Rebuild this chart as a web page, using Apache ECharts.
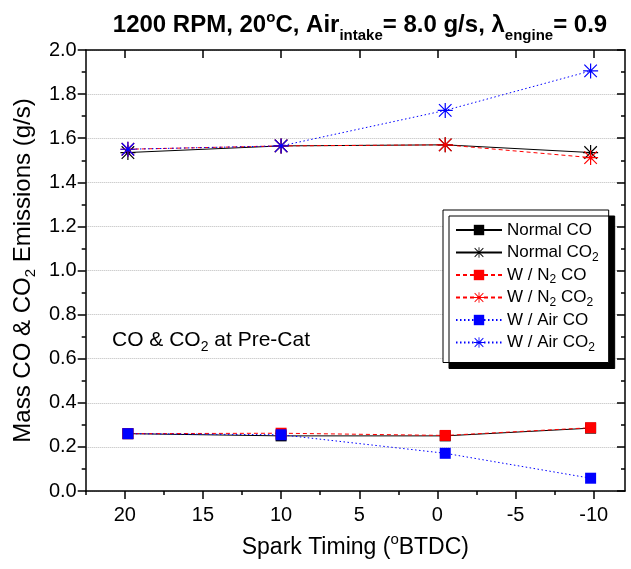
<!DOCTYPE html>
<html><head><meta charset="utf-8">
<script src="https://cdn.jsdelivr.net/npm/echarts@6/dist/echarts.min.js"></script>
<style>html,body{margin:0;padding:0;background:#fff}#c{width:631px;height:569px}</style>
</head><body><div id="c"></div>
<script>
// ---- data ----
const sparkTiming = [19.8, 10, -0.5, -9.8];
const normalCO  = [0.260, 0.250, 0.250, 0.285];
const normalCO2 = [1.535, 1.565, 1.570, 1.535];
const n2CO      = [0.260, 0.262, 0.252, 0.287];
const n2CO2     = [1.550, 1.565, 1.570, 1.512];
const airCO     = [0.260, 0.255, 0.171, 0.058];
const airCO2    = [1.550, 1.565, 1.726, 1.905];
const xMajorTicks = [20, 15, 10, 5, 0, -5, -10];
const xMinorTicks = [22.5, 17.5, 12.5, 7.5, 2.5, -2.5, -7.5];
const seriesNames = ['Normal CO', 'Normal CO2', 'W / N2 CO', 'W / N2 CO2', 'W / Air CO', 'W / Air CO2'];

const FONT = '"Liberation Sans", Arial, Helvetica, sans-serif';
const STAR = 'path://M9.2 0 L10.8 0 L10.8 20 L9.2 20 Z M0 9.2 L20 9.2 L20 10.8 L0 10.8 Z M1.1 2.2 L2.2 1.1 L18.9 17.8 L17.8 18.9 Z M17.8 1.1 L18.9 2.2 L2.2 18.9 L1.1 17.8 Z';

function pts(ys){ return sparkTiming.map((x,i)=>[x, ys[i]]); }
function mk(name, ys, color, type, isStar){
  return {
    name: name, type: 'line', data: pts(ys),
    xAxisIndex: 0, yAxisIndex: 0,
    symbol: isStar ? STAR : 'rect',
    symbolSize: isStar ? 15 : 11,
    symbolKeepAspect: true,
    lineStyle: {color: color, width: 1, type: type},
    itemStyle: {color: color},
    emphasis: {disabled: true},
    animation: false, z: 3
  };
}
const subFmt = s => s.replace(/N2/g, 'N{sub|2}').replace(/CO2/g, 'CO{sub|2}');

const chart = echarts.init(document.getElementById('c'));
const axisCommon = {
  type: 'value', min: -12, max: 22.5, inverse: true,
  axisLine: {show: true, onZero: false, lineStyle: {color: '#000', width: 1.5}},
  splitLine: {show: false}
};
chart.setOption({
  animation: false,
  backgroundColor: '#fff',
  textStyle: {fontFamily: FONT},
  title: {
    text: '1200 RPM, 20{sup|o}C, Air{sub|intake}= 8.0 g/s, λ{sub|engine}= 0.9',
    left: 355, top: 2, textAlign: 'center',
    textStyle: {
      fontFamily: FONT, fontSize: 24, fontWeight: 'bold', color: '#000', lineHeight: 36,
      rich: {
        sup: {fontFamily: FONT, fontSize: 15, fontWeight: 'bold', verticalAlign: 'top', lineHeight: 36, padding:[3,0,0,0]},
        sub: {fontFamily: FONT, fontSize: 15, fontWeight: 'bold', verticalAlign: 'bottom', lineHeight: 36}
      }
    }
  },
  grid: {left: 85, right: 6, top: 50, bottom: 74, containLabel: false},
  xAxis: [
    Object.assign({}, axisCommon, {
      position: 'bottom',
      name: 'Spark Timing ({sup|o}BTDC)', nameLocation: 'middle', nameGap: 41,
      nameTextStyle: {fontFamily: FONT, fontSize: 23, color: '#000', lineHeight: 32,
        rich: {sup: {fontFamily: FONT, fontSize: 15, verticalAlign: 'top', lineHeight: 32}}},
      axisTick: {show: true, inside: false, length: 8, lineStyle: {color: '#000', width: 1.5}, customValues: xMajorTicks},
      axisLabel: {show: true, fontFamily: FONT, fontSize: 20, color: '#000', margin: 14, customValues: xMajorTicks}
    }),
    Object.assign({}, axisCommon, {
      position: 'bottom',
      axisLine: {show: false},
      axisTick: {show: true, inside: false, length: 4, lineStyle: {color: '#000', width: 1.5}, customValues: xMinorTicks},
      axisLabel: {show: false}
    }),
    Object.assign({}, axisCommon, {
      position: 'top',
      axisTick: {show: true, inside: true, length: 8, lineStyle: {color: '#000', width: 1.5}, customValues: xMajorTicks},
      axisLabel: {show: false}
    }),
    Object.assign({}, axisCommon, {
      position: 'top',
      axisLine: {show: false},
      axisTick: {show: true, inside: true, length: 4, lineStyle: {color: '#000', width: 1.5}, customValues: xMinorTicks},
      axisLabel: {show: false}
    })
  ],
  yAxis: [
    {
      type: 'value', min: 0, max: 2, interval: 0.2, position: 'left',
      name: 'Mass CO & CO{sub|2} Emissions (g/s)', nameLocation: 'middle', nameGap: 46, nameRotate: 90,
      nameTextStyle: {fontFamily: FONT, fontSize: 24, color: '#000', lineHeight: 30,
        rich: {sub: {fontFamily: FONT, fontSize: 15, verticalAlign: 'bottom', lineHeight: 30}}},
      axisLine: {show: true, onZero: false, lineStyle: {color: '#000', width: 1.5}},
      axisTick: {show: true, inside: false, length: 8, lineStyle: {color: '#000', width: 1.5}},
      minorTick: {show: true, splitNumber: 2, length: 4, lineStyle: {color: '#000', width: 1.5}},
      axisLabel: {fontFamily: FONT, fontSize: 20, color: '#000', margin: 9, formatter: v => v.toFixed(1)},
      splitLine: {show: true, lineStyle: {color: '#bbb', width: 1, type: [1, 1]}}
    },
    {
      type: 'value', min: 0, max: 2, interval: 0.2, position: 'right',
      axisLine: {show: true, onZero: false, lineStyle: {color: '#000', width: 1.5}},
      axisTick: {show: true, inside: true, length: 8, lineStyle: {color: '#000', width: 1.5}},
      minorTick: {show: true, splitNumber: 2, length: 4, lineStyle: {color: '#000', width: 1.5}},
      axisLabel: {show: false},
      splitLine: {show: false}
    }
  ],
  legend: {
    orient: 'vertical', left: 443, top: 210,
    data: seriesNames,
    itemWidth: 46, itemHeight: 13, itemGap: 0.5,
    padding: [9, 10, 9, 12],
    backgroundColor: '#fff', borderColor: '#000', borderWidth: 1,
    shadowColor: '#000', shadowBlur: 0, shadowOffsetX: 6, shadowOffsetY: 6,
    formatter: subFmt,
    textStyle: {fontFamily: FONT, fontSize: 17, color: '#000', lineHeight: 22,
      rich: {sub: {fontFamily: FONT, fontSize: 12, verticalAlign: 'bottom', lineHeight: 22}}},
    selectedMode: false
  },
  graphic: [{
    type: 'text', left: 112, top: 326, z: 10,
    style: {
      text: 'CO & CO{sub|2} at Pre-Cat', fill: '#000', fontFamily: FONT, fontSize: 21, lineHeight: 28,
      rich: {sub: {fontFamily: FONT, fontSize: 14, verticalAlign: 'bottom', lineHeight: 28, fill: '#000'}}
    }
  }],
  series: [
    mk(seriesNames[0], normalCO, '#000', 'solid', false),
    mk(seriesNames[1], normalCO2, '#000', 'solid', true),
    mk(seriesNames[2], n2CO, '#ff0000', [4, 3], false),
    mk(seriesNames[3], n2CO2, '#ff0000', [4, 3], true),
    mk(seriesNames[4], airCO, '#0000ff', [1.5, 2.5], false),
    mk(seriesNames[5], airCO2, '#0000ff', [1.5, 2.5], true)
  ]
});
</script></body></html>
